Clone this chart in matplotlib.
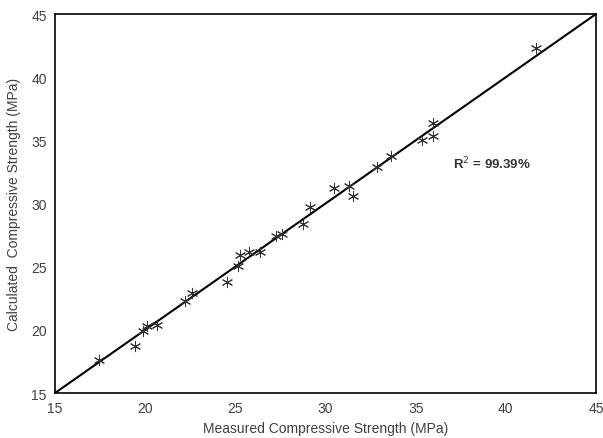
import matplotlib
matplotlib.use("Agg")
import matplotlib.pyplot as plt
import numpy as np

plt.rcParams['font.family'] = ['Liberation Sans', 'DejaVu Sans']

# measured vs calculated compressive strength (MPa)
measured = [17.46, 19.45, 19.86, 20.08, 20.64, 22.2, 22.58, 24.52, 25.17, 25.26,
            25.78, 26.37, 27.26, 27.57, 28.74, 29.14, 30.49, 31.32, 31.54, 32.88,
            33.64, 35.34, 35.95, 35.98, 41.68]
calculated = [17.6, 18.74, 19.93, 20.27, 20.38, 22.3, 22.91, 23.76, 25.02, 25.94,
              26.2, 26.2, 27.4, 27.58, 28.37, 29.7, 31.2, 31.36, 30.61, 32.86,
              33.73, 35.05, 36.37, 35.36, 42.31]
lims = [15, 45]
ticks = [15, 20, 25, 30, 35, 40, 45]

fig = plt.figure(figsize=(6.03, 4.39), dpi=100)
ax = fig.add_axes([0.0912, 0.1025, 0.8972, 0.8633])

ax.plot(lims, lims, color='black', lw=1.5, zorder=2)
ax.plot(measured, calculated, ls='none', marker=(6, 2, 0), ms=8,
        mec='#333333', mew=0.7, zorder=3)

ax.set_xlim(lims)
ax.set_ylim(lims)
ax.set_xticks(ticks)
ax.set_yticks(ticks)
ax.tick_params(length=0, labelsize=10, pad=6, colors='#404040')
for s in ax.spines.values():
    s.set_linewidth(1.2)
    s.set_color('black')

ax.set_xlabel('Measured Compressive Strength (MPa)', fontsize=10, color='#404040', labelpad=4)
ax.set_ylabel('Calculated  Compressive Strength (MPa)', fontsize=10, color='#404040', labelpad=7)
ax.text(37.07, 33.2, 'R$^2$ = 99.39%', fontsize=9.5, fontweight='bold',
        color='#333333', ha='left', va='center')

fig.savefig('out.png', dpi=100)
